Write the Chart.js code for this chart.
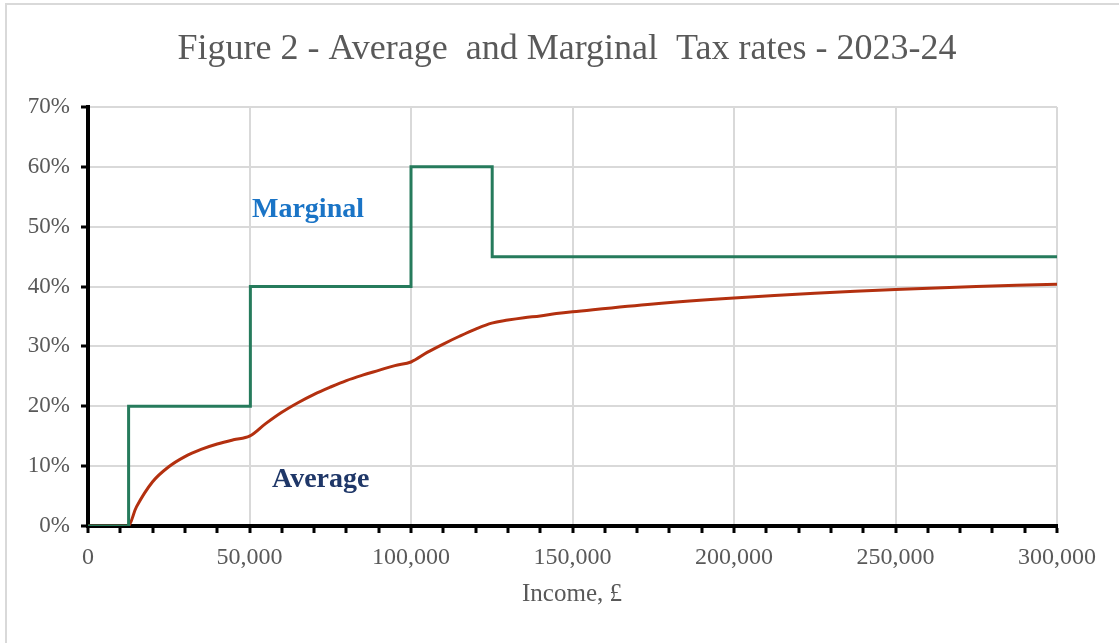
<!DOCTYPE html>
<html>
<head>
<meta charset="UTF-8">
<title>Average and Marginal Tax rates</title>
<script src="https://cdn.jsdelivr.net/npm/chart.js@4.4.0/dist/chart.umd.min.js"></script>
<style>
  body { margin: 0; background: #fff; }
  #box { width: 1119px; height: 643px; position: relative; }
</style>
</head>
<body>
<div id="box"><canvas id="taxCanvas"></canvas></div>
<script>
// marginal rate bands (rate applies from the income shown)
var marginalIncome = [0, 12570, 50270, 100000, 125140, 300000];
var marginalRate = [0, 20, 40, 60, 45, 45];

// average rate
var averageIncome = [0, 5000, 10000, 12570, 15000, 20000, 25000, 30000, 35000, 40000, 45000, 50000,
    55000, 60000, 65000, 70000, 75000, 80000, 85000, 90000, 95000, 100000,
    105000, 110000, 115000, 120000, 125000, 130000, 135000, 140000, 145000, 150000,
    175000, 200000, 225000, 250000, 275000, 300000];
var averageRate = [0, 0, 0, 0, 3.2, 7.4, 9.9, 11.6, 12.8, 13.7, 14.4, 15.0,
    17.1, 19.0, 20.6, 22.0, 23.2, 24.3, 25.2, 26.0, 26.8, 27.4,
    29.0, 30.4, 31.7, 32.9, 33.9, 34.4, 34.8, 35.1, 35.5, 35.8,
    37.1, 38.1, 38.9, 39.5, 40.0, 40.4];

var yTicks = [0, 10, 20, 30, 40, 50, 60, 70];

var chartTitle = 'Figure 2 - Average  and Marginal  Tax rates - 2023-24';
var xTitle = 'Income, \u00a3';

function toPoints(xs, ys) {
    var out = [];
    for (var i = 0; i < xs.length; i++) out.push({x: xs[i], y: ys[i]});
    return out;
}

var decor = {
    id: 'decor',
    beforeDraw: function (chart) {
        var c = chart.ctx;
        c.save();
        c.fillStyle = '#fff';
        c.fillRect(0, 0, chart.width, chart.height);
        c.strokeStyle = '#d9d9d9';
        c.lineWidth = 2;
        c.beginPath();
        c.moveTo(6, chart.height);
        c.lineTo(6, 4);
        c.lineTo(chart.width, 4);
        c.stroke();
        c.restore();
    },
    afterDraw: function (chart) {
        var c = chart.ctx;
        c.save();
        c.textAlign = 'center';
        c.textBaseline = 'middle';
        c.fillStyle = '#595959';
        c.font = '36px "Liberation Serif", serif';
        c.fillText(chartTitle, 567, 50);
        c.font = '25px "Liberation Serif", serif';
        c.fillText(xTitle, 572, 594);

        c.textAlign = 'left';
        c.textBaseline = 'alphabetic';
        c.font = 'bold 28px "Liberation Serif", serif';
        c.fillStyle = '#1a74c6';
        c.fillText('Marginal', 252, 217);
        c.fillStyle = '#1f3768';
        c.fillText('Average', 272, 487);
        c.restore();
    }
};

var ctx = document.getElementById('taxCanvas').getContext('2d');
window.taxChart = new Chart(ctx, {
    type: 'line',
    data: {
        datasets: [{
                label: 'Marginal',
                data: toPoints(marginalIncome, marginalRate),
                borderColor: '#267b5c',
                borderWidth: 3,
                stepped: 'before',
                pointRadius: 0,
                fill: false
            }, {
                label: 'Average',
                data: toPoints(averageIncome, averageRate),
                borderColor: '#b3300f',
                borderWidth: 3,
                tension: 0.35,
                pointRadius: 0,
                fill: false
            }]
    },
    options: {
        responsive: true,
        maintainAspectRatio: false,
        animation: false,
        layout: { padding: { top: 107, right: 62, bottom: 0, left: 0 } },
        plugins: {
            legend: { display: false },
            tooltip: { enabled: false }
        },
        scales: {
            x: {
                type: 'linear',
                min: 0,
                max: 300000,
                afterFit: function (s) { s.height = 117; },
                border: { color: '#000', width: 4 },
                grid: {
                    color: function (c) { return c.tick && c.tick.value % 50000 === 0 ? '#d9d9d9' : 'rgba(0,0,0,0)'; },
                    lineWidth: 2,
                    tickColor: '#000',
                    tickWidth: 3,
                    tickLength: 7
                },
                ticks: {
                    stepSize: 10000,
                    autoSkip: false,
                    maxRotation: 0,
                    padding: 10,
                    color: '#595959',
                    font: { family: '"Liberation Serif", serif', size: 24 },
                    callback: function (v) { return v % 50000 === 0 ? v.toLocaleString('en-GB') : ''; }
                }
            },
            y: {
                min: 0,
                max: 70,
                afterFit: function (s) { s.width = 88; },
                afterBuildTicks: function (s) { s.ticks = yTicks.map(function (v) { return {value: v}; }); },
                border: { color: '#000', width: 4 },
                grid: {
                    color: '#d9d9d9',
                    lineWidth: 2,
                    tickColor: '#000',
                    tickWidth: 3,
                    tickLength: 7
                },
                ticks: {
                    padding: 11,
                    color: '#595959',
                    font: { family: '"Liberation Serif", serif', size: 23 },
                    callback: function (v) { return v + '%'; }
                }
            }
        }
    },
    plugins: [decor]
});
</script>
</body>
</html>
